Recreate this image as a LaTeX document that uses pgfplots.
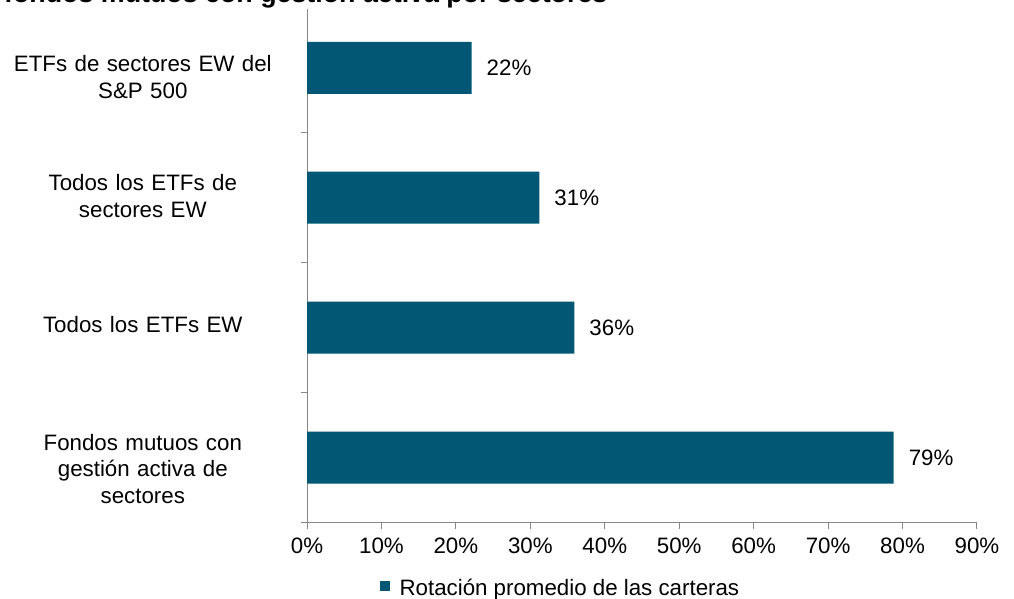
\documentclass[border=0pt]{standalone}
\usepackage{fontspec}
\setmainfont{Liberation Sans}
\usepackage{pgfplots}
\pgfplotsset{compat=1.18}
\definecolor{barc}{RGB}{2,87,117}
\definecolor{axgray}{RGB}{134,134,134}
\begin{document}
\begin{tikzpicture}[font=\fontsize{22.3}{26.5}\selectfont]
\path[use as bounding box] (0pt,0pt) rectangle (1014pt,-599pt);
\begin{axis}[
  at={(307pt,-522.5pt)}, anchor=south west,
  scale only axis, width=670pt, height=519.7pt,
  xmin=0, xmax=90, ymin=-0.5, ymax=3.5,
  xbar, bar width=52pt,
  axis lines*=left,
  axis line style={draw=axgray, line width=1pt},
  tick style={draw=axgray, line width=1pt},
  tick align=outside,
  major tick length=6pt,
  xtick={0,10,...,90},
  xticklabel={\pgfmathprintnumber{\tick}\%},
  xticklabel style={yshift=-6pt},
  /pgf/number format/assume math mode=true,
  ytick={-0.5,0.5,1.5,2.5},
  yticklabels={},
  extra y ticks={-0.088,1.027,2.012,2.927},
  extra y tick labels={{Fondos mutuos con\\gestión activa de\\sectores},{Todos los ETFs EW},{Todos los ETFs de\\sectores EW},{ETFs de sectores EW del\\S\&P 500}},
  extra y tick style={major tick length=0pt, tick style={draw=none}, yticklabel style={anchor=east, text width=300pt, align=center, inner sep=0pt, xshift=-14pt}},
  point meta=x,
  nodes near coords={\pgfmathprintnumber[fixed,precision=0]{\pgfplotspointmeta}\%},
  nodes near coords style={anchor=west, xshift=15pt, inner sep=0pt, black},
  legend style={draw=none, fill=none, at={(axis description cs:0.108,-0.126)}, anchor=west, inner sep=0pt, nodes={inner sep=0pt}, /tikz/every odd column/.append style={column sep=10pt}},
  legend cell align=left,
  legend image code/.code={\fill[barc] (0pt,-3pt) rectangle (10pt,7pt);},
  clip=false,
]
\addplot[fill=barc, draw=none] coordinates {(78.8,0) (35.9,1) (31.2,2) (22.1,3)};
\addlegendentry{Rotación promedio de las carteras}
\end{axis}
\node[anchor=base west, inner sep=0pt, fill=white, font=\bfseries\fontsize{26.8}{32}\selectfont] at (4pt,-3pt) {fondos mutuos con gestión activa por sectores};
\end{tikzpicture}
\end{document}
